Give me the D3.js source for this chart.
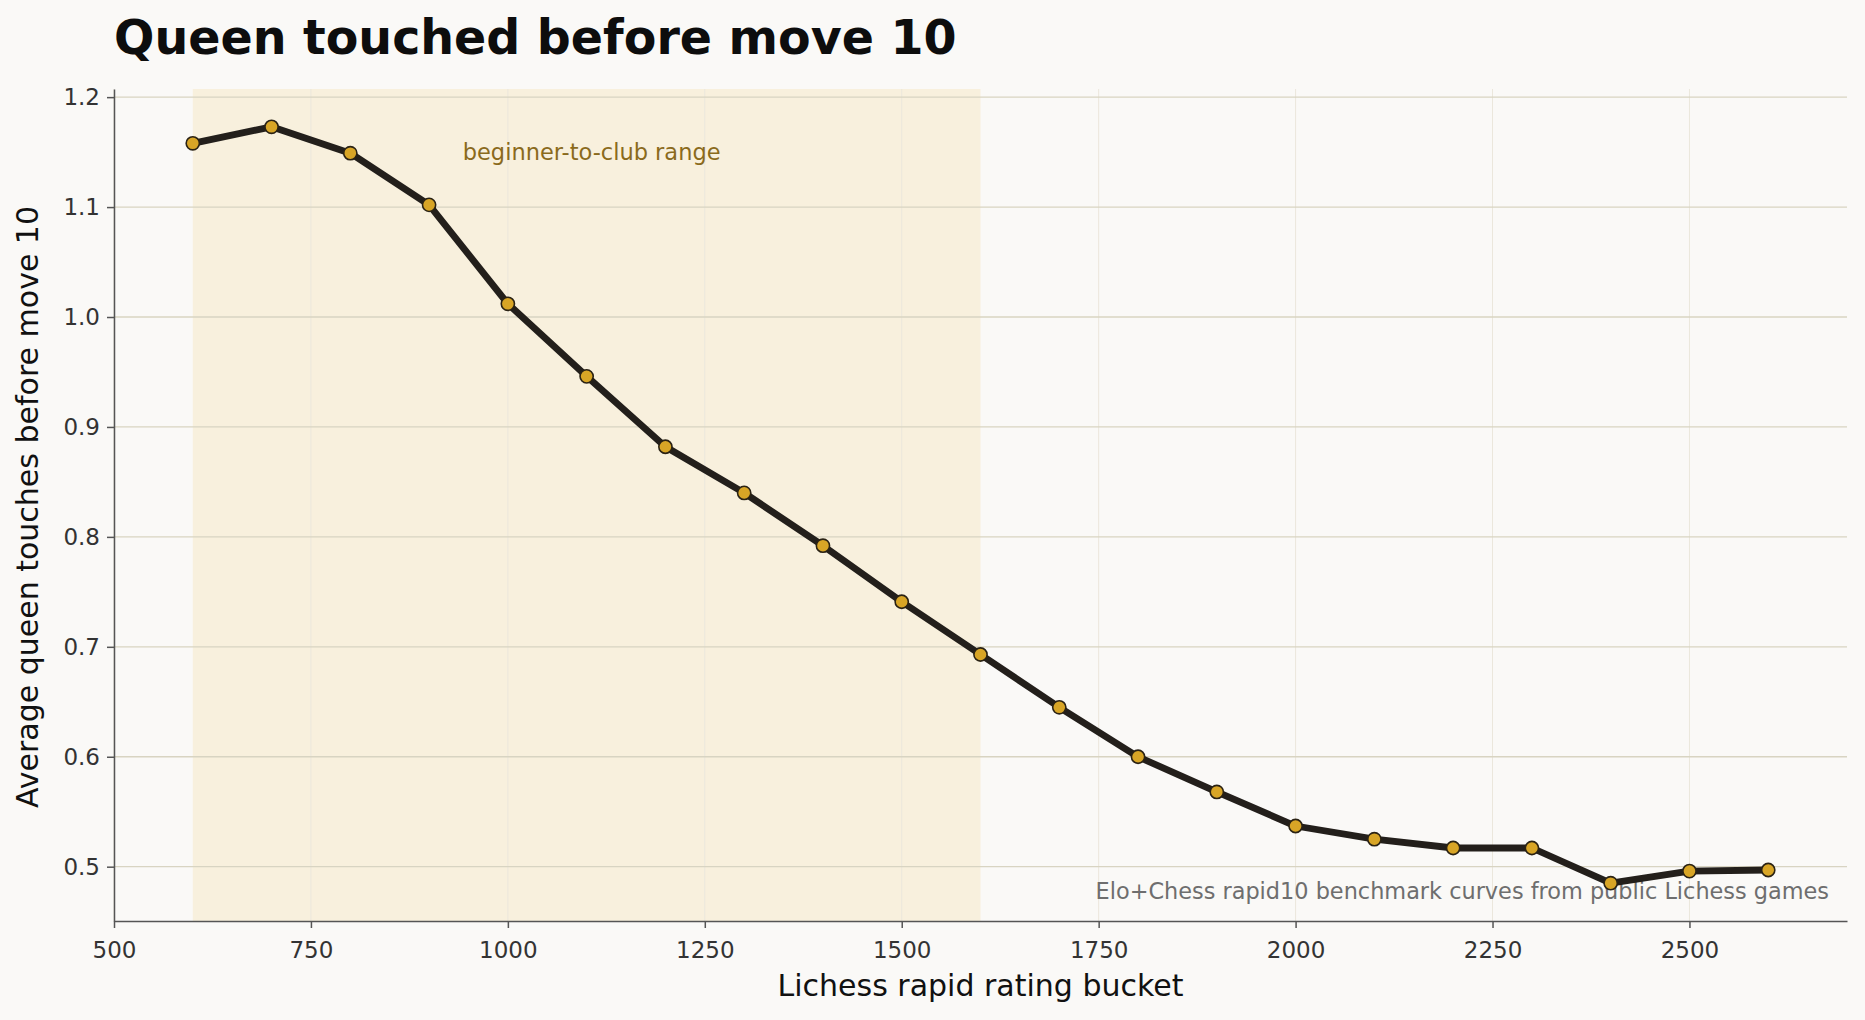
<!DOCTYPE html>
<html lang="en">
<head>
  <meta charset="UTF-8">
  <title>Queen touched before move 10</title>
  <script src="https://d3js.org/d3.v7.min.js"></script>
  <style>
    body { margin: 0; background: #faf9f7; }
    svg { display: block; font-family: "DejaVu Sans", sans-serif; }
  </style>
</head>
<body>
  <script>
    // rating buckets and the average number of queen touches before move 10
    const ratings = [600, 700, 800, 900, 1000, 1100, 1200, 1300, 1400, 1500, 1600,
                     1700, 1800, 1900, 2000, 2100, 2200, 2300, 2400, 2500, 2600];
    const touches = [1.158, 1.173, 1.149, 1.102, 1.012, 0.946, 0.882, 0.840, 0.792, 0.741, 0.693,
                     0.645, 0.600, 0.568, 0.537, 0.525, 0.517, 0.517, 0.485, 0.496, 0.497];
    const xTicks = [500, 750, 1000, 1250, 1500, 1750, 2000, 2250, 2500];
    const yTicks = [0.5, 0.6, 0.7, 0.8, 0.9, 1.0, 1.1, 1.2];
    const band = [600, 1600];

    const width = 1865;
    const height = 1020;
    const margin = { top: 89, right: 18, bottom: 99, left: 114 };
    const iw = width - margin.left - margin.right;
    const ih = height - margin.top - margin.bottom;

    const data = ratings.map((r, i) => ({ r, v: touches[i] }));

    // matplotlib-style 5% padding
    const xe = d3.extent(ratings), ye = d3.extent(touches);
    const xp = (xe[1] - xe[0]) * 0.05, yp = (ye[1] - ye[0]) * 0.05;

    const x = d3.scaleLinear().domain([xe[0] - xp, xe[1] + xp]).range([0, iw]);
    const y = d3.scaleLinear().domain([ye[0] - yp, ye[1] + yp]).range([ih, 0]);

    const svg = d3.select('body').append('svg')
      .attr('width', width)
      .attr('height', height);

    svg.append('rect')
      .attr('width', width)
      .attr('height', height)
      .attr('fill', '#faf9f7');

    svg.append('text')
      .attr('x', margin.left)
      .attr('y', 54)
      .attr('font-size', 47.5)
      .attr('font-weight', 'bold')
      .attr('fill', '#0d0d0d')
      .text('Queen touched before move 10');

    const g = svg.append('g')
      .attr('transform', `translate(${margin.left},${margin.top})`);

    // shaded range
    g.append('rect')
      .attr('x', x(band[0]))
      .attr('width', x(band[1]) - x(band[0]))
      .attr('y', 0)
      .attr('height', ih)
      .attr('fill', '#f8f0dd');

    // grid
    g.append('g')
      .selectAll('line')
      .data(xTicks)
      .enter().append('line')
      .attr('x1', d => x(d)).attr('x2', d => x(d))
      .attr('y1', 0).attr('y2', ih)
      .attr('stroke', '#ebe7dc')
      .attr('stroke-width', 1);

    g.append('g')
      .selectAll('line')
      .data(yTicks)
      .enter().append('line')
      .attr('x1', 0).attr('x2', iw)
      .attr('y1', d => y(d)).attr('y2', d => y(d))
      .attr('stroke', '#d8d4c2')
      .attr('stroke-width', 1.3);

    g.append('text')
      .attr('x', x((band[0] + band[1]) / 2) + 5)
      .attr('y', y(1.15))
      .attr('text-anchor', 'middle')
      .attr('dominant-baseline', 'central')
      .attr('font-size', 22.5)
      .attr('fill', '#8a6a1c')
      .text('beginner-to-club range');

    g.append('text')
      .attr('x', iw - 18)
      .attr('y', ih - 22)
      .attr('text-anchor', 'end')
      .attr('font-size', 22.4)
      .attr('fill', '#6e6e6e')
      .text('Elo+Chess rapid10 benchmark curves from public Lichess games');

    // axes
    const xAxis = g.append('g')
      .attr('transform', `translate(0,${ih})`)
      .call(d3.axisBottom(x).tickValues(xTicks).tickFormat(d3.format('d'))
        .tickSize(7).tickPadding(14).tickSizeOuter(0));

    const yAxis = g.append('g')
      .call(d3.axisLeft(y).tickValues(yTicks).tickFormat(d3.format('.1f'))
        .tickSize(7).tickPadding(7).tickSizeOuter(0));

    [xAxis, yAxis].forEach(a => {
      a.attr('font-family', '"DejaVu Sans", sans-serif').attr('font-size', 23);
      a.selectAll('.tick text').attr('fill', '#333');
      a.selectAll('.tick line').attr('stroke', '#555').attr('stroke-width', 1.5);
      a.select('.domain').attr('stroke', '#555').attr('stroke-width', 1.5);
    });

    // line and markers
    g.append('path')
      .datum(data)
      .attr('fill', 'none')
      .attr('stroke', '#231f1b')
      .attr('stroke-width', 6.8)
      .attr('stroke-linejoin', 'round')
      .attr('d', d3.line().x(d => x(d.r)).y(d => y(d.v)));

    g.append('g')
      .selectAll('circle')
      .data(data)
      .enter().append('circle')
      .attr('cx', d => x(d.r))
      .attr('cy', d => y(d.v))
      .attr('r', 6.6)
      .attr('fill', '#d8a526')
      .attr('stroke', '#2a2214')
      .attr('stroke-width', 1.6);

    // axis titles
    svg.append('text')
      .attr('x', margin.left + iw / 2)
      .attr('y', 996)
      .attr('text-anchor', 'middle')
      .attr('font-size', 30)
      .attr('fill', '#111')
      .text('Lichess rapid rating bucket');

    svg.append('text')
      .attr('transform', `translate(38,${margin.top + ih / 2 + 2}) rotate(-90)`)
      .attr('text-anchor', 'middle')
      .attr('font-size', 30)
      .attr('fill', '#111')
      .text('Average queen touches before move 10');
  </script>
</body>
</html>
